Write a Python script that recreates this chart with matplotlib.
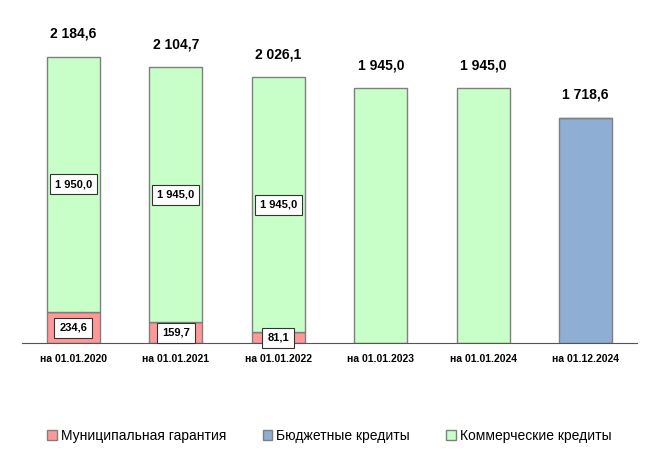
import numpy as np
import matplotlib.pyplot as plt

plt.rcParams['font.family'] = ['Liberation Sans', 'DejaVu Sans']

# данные
dates = ["на 01.01.2020", "на 01.01.2021", "на 01.01.2022",
         "на 01.01.2023", "на 01.01.2024", "на 01.12.2024"]
guarantee = [234.6, 159.7, 81.1, 0, 0, 0]
budget = [0, 0, 0, 0, 0, 1718.6]
commercial = [1950.0, 1945.0, 1945.0, 1945.0, 1945.0, 0]


def fmt(v):
    s = f"{v:,.1f}".replace(",", " ").replace(".", ",")
    return s


x = np.arange(len(dates))
g = np.array(guarantee)
b = np.array(budget)
c = np.array(commercial)
totals = g + b + c

fig = plt.figure(figsize=(6.59, 4.65), dpi=100)
ax = fig.add_axes([22 / 659, 122 / 465, 615 / 659, 323 / 465])

w = 0.52
red = '#FF9999'
blue = '#8EAED3'
green = '#C8FFC8'
edge = '#7F7F7F'

ax.bar(x, g, w, color=red, edgecolor=edge, linewidth=1, label='Муниципальная гарантия')
ax.bar(x, b, w, bottom=g, color=blue, edgecolor=edge, linewidth=1, label='Бюджетные кредиты')
ax.bar(x, c, w, bottom=g + b, color=green, edgecolor=edge, linewidth=1, label='Коммерческие кредиты')

box = dict(boxstyle='square,pad=0.45', fc='white', ec='#333333', lw=0.8)
for i in range(len(dates)):
    if g[i] > 0 and c[i] > 0:
        ax.text(x[i], g[i] + c[i] / 2, fmt(c[i]), ha='center', va='center',
                fontsize=8, fontweight='bold', bbox=box)
        ax.text(x[i], g[i] / 2, fmt(g[i]), ha='center', va='center',
                fontsize=8, fontweight='bold', bbox=box)
    ax.text(x[i], totals[i] + 175, fmt(totals[i]), ha='center', va='center',
            fontsize=10, fontweight='bold')

ax.set_xlim(-0.5, len(dates) - 0.5)
ax.set_ylim(0, 2464)
ax.set_xticks(x)
ax.set_xticklabels(dates, fontsize=7.5, fontweight='bold')
ax.tick_params(axis='x', length=0, pad=8)
ax.set_yticks([])
for s in ['top', 'right', 'left']:
    ax.spines[s].set_visible(False)
ax.spines['bottom'].set_color('#555555')

fig.legend(loc='lower center', bbox_to_anchor=(0.5, 0.02), ncol=3, frameon=False,
           fontsize=10, handlelength=0.7, handleheight=0.7, handletextpad=0.3,
           columnspacing=2.6)

fig.savefig('out.png', dpi=100)
